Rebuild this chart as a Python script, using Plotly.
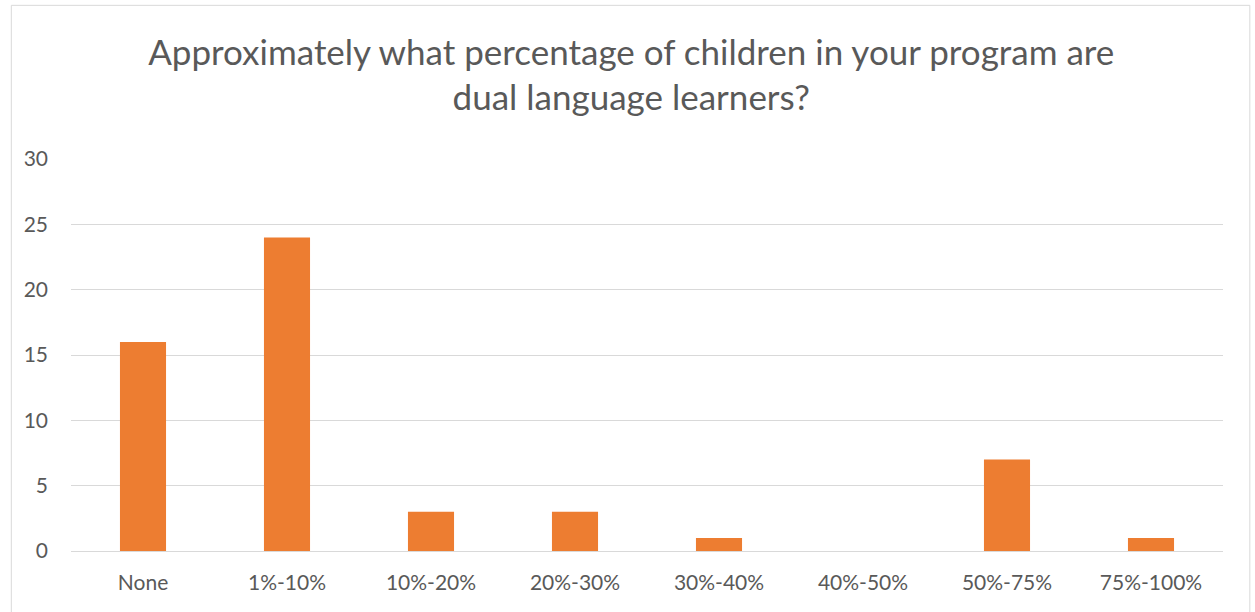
import plotly.graph_objects as go

categories = ["None", "1%-10%", "10%-20%", "20%-30%", "30%-40%", "40%-50%", "50%-75%", "75%-100%"]
counts = [16, 24, 3, 3, 1, 0, 7, 1]
y_ticks = [0, 5, 10, 15, 20, 25, 30]

title_text = "Approximately what percentage of children in your program are<br>dual language learners?"

fig = go.Figure(
    go.Bar(
        x=categories,
        y=counts,
        marker=dict(color="#ED7D31", line=dict(width=0)),
        hoverinfo="x+y",
    )
)

fig.update_layout(
    width=1255,
    height=612,
    margin=dict(l=71, r=32, t=159, b=61),
    paper_bgcolor="white",
    plot_bgcolor="white",
    bargap=0.68,
    showlegend=False,
    font=dict(family="Lato, Open Sans, sans-serif", color="#595959", size=21),
    title=dict(
        text=title_text,
        x=0.503,
        xanchor="center",
        xref="container",
        yref="container",
        y=0.894,
        yanchor="top",
        font=dict(size=35, color="#595959"),
    ),
    xaxis=dict(
        showgrid=False,
        showline=False,
        ticks="",
        ticklabelstandoff=17,
        tickfont=dict(size=21, color="#595959"),
        fixedrange=True,
    ),
    yaxis=dict(
        range=[0, 30],
        tickvals=y_ticks,
        showgrid=True,
        gridcolor="#D9D9D9",
        gridwidth=1,
        zeroline=True,
        zerolinecolor="#D9D9D9",
        zerolinewidth=1,
        ticks="",
        ticklabelstandoff=22,
        tickfont=dict(size=21, color="#595959"),
        fixedrange=True,
    ),
    shapes=[
        dict(
            type="rect",
            xref="paper",
            yref="paper",
            x0=-0.0518,
            x1=1.0233,
            y0=-0.2,
            y1=1.392,
            line=dict(color="#D9D9D9", width=1),
            layer="below",
        )
    ],
)

fig.write_html("out.html")
